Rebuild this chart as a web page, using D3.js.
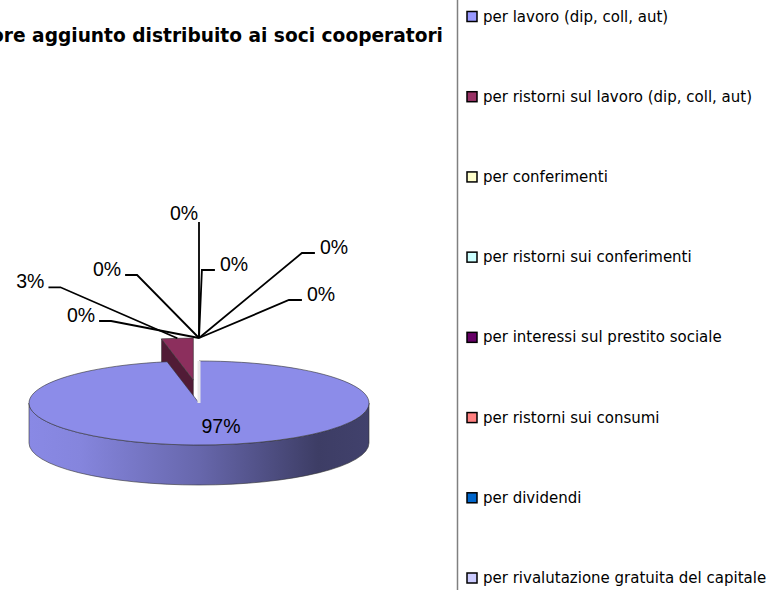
<!DOCTYPE html>
<html>
<head>
<meta charset="utf-8">
<script src="https://cdn.jsdelivr.net/npm/d3@7"></script>
<style>
  html, body { margin: 0; padding: 0; background: #fff; overflow: hidden; }
  svg { display: block; }
</style>
</head>
<body>
<svg id="chart" width="777" height="590"></svg>
<script>
// Data
const title = "Valore aggiunto distribuito ai soci cooperatori";
const categories = [
  "per lavoro (dip, coll, aut)",
  "per ristorni sul lavoro (dip, coll, aut)",
  "per conferimenti",
  "per ristorni sui conferimenti",
  "per interessi sul prestito sociale",
  "per ristorni sui consumi",
  "per dividendi",
  "per rivalutazione gratuita del capitale"
];
const values = [97, 3, 0, 0, 0, 0, 0, 0];
const colors = ["#9999FF", "#993366", "#FFFFCC", "#CCFFFF", "#660066", "#FF8080", "#0066CC", "#CCCCFF"];

// Layout
const pie3d = { cx: 199, cy: 403, rx: 170, ry: 42, depth: 40 };
const explodeX = 60, explodeY = 23;
const exploded = [false, true, true, true, true, true, true, true];
// label offset from leader anchor (first one: from pie centre), [dx, baseline dy]
const labelOffsets = [[22, 30], [-147, -50], [-118, -16], [-92, -62], [-15, -118], [35, -67], [135, -84], [122, -37]];
const labelFont = "'Liberation Sans', Arial, sans-serif";
const comicFont = "'Comic Sans MS', 'DejaVu Sans', sans-serif";

const svg = d3.select("#chart");

// Title (its left part runs past the edge, as in the original)
svg.append("text")
  .attr("x", 443)
  .attr("y", 42)
  .attr("text-anchor", "end")
  .style("font-family", comicFont)
  .style("font-weight", "bold")
  .style("font-size", "18.6px")
  .text(title);

// Pie geometry
const arcs = d3.pie().sort(null).value((d) => d)(values);

function offsetOf(i) {
  if (!exploded[i]) return [0, 0];
  const mid = (arcs[i].startAngle + arcs[i].endAngle) / 2;
  return [Math.sin(mid) * explodeX, -Math.cos(mid) * explodeY];
}

function pt(a, off, dz = 0) {
  return [pie3d.cx + off[0] + pie3d.rx * Math.sin(a), pie3d.cy + off[1] - pie3d.ry * Math.cos(a) + dz];
}

function centre(off, dz = 0) {
  return [pie3d.cx + off[0], pie3d.cy + off[1] + dz];
}

function topPath(d, off) {
  const p0 = pt(d.startAngle, off), p1 = pt(d.endAngle, off);
  const large = d.endAngle - d.startAngle > Math.PI ? 1 : 0;
  return `M${centre(off)}L${p0}A${pie3d.rx},${pie3d.ry} 0 ${large} 1 ${p1}Z`;
}

function wallPath(d, off) {
  const s = Math.max(d.startAngle, Math.PI / 2);
  const e = Math.min(d.endAngle, Math.PI * 1.5);
  if (s >= e) return null;
  const D = pie3d.depth;
  return `M${pt(s, off)}A${pie3d.rx},${pie3d.ry} 0 0 1 ${pt(e, off)}` +
    `L${pt(e, off, D)}A${pie3d.rx},${pie3d.ry} 0 0 0 ${pt(s, off, D)}Z`;
}

function cutPath(a, off) {
  const D = pie3d.depth;
  return `M${centre(off)}L${pt(a, off)}L${pt(a, off, D)}L${centre(off, D)}Z`;
}

// Wall gradients, light on the left, dark on the right
const defs = svg.append("defs");
colors.forEach((c, i) => {
  const g = defs.append("linearGradient")
    .attr("id", `wall${i}`)
    .attr("gradientUnits", "userSpaceOnUse")
    .attr("x1", pie3d.cx - pie3d.rx).attr("x2", pie3d.cx + pie3d.rx)
    .attr("y1", 0).attr("y2", 0);
  [[0, 0.3], [0.15, 0.4], [0.5, 1.1], [0.85, 2.6], [1, 2.4]].forEach(([o, k]) => {
    g.append("stop").attr("offset", o).attr("stop-color", d3.color(c).darker(k));
  });
});

// Back slices first
const order = d3.range(values.length)
  .filter((i) => values[i] > 0)
  .sort((a, b) => {
    const ma = (arcs[a].startAngle + arcs[a].endAngle) / 2;
    const mb = (arcs[b].startAngle + arcs[b].endAngle) / 2;
    return Math.cos(mb) - Math.cos(ma);
  });

const pieG = svg.append("g");
order.forEach((i) => {
  const d = arcs[i], off = offsetOf(i);
  const g = pieG.append("g");
  const stroke = "#333";

  const wall = wallPath(d, off);
  if (wall) {
    g.append("path").attr("d", wall).attr("fill", `url(#wall${i})`)
      .attr("stroke", stroke).attr("stroke-width", 0.6);
  }
  // cut faces, only the ones turned towards the viewer
  if (Math.sin(d.startAngle) < -1e-6) {
    g.append("path").attr("d", cutPath(d.startAngle, off))
      .attr("fill", d3.color(colors[i]).darker(1.8))
      .attr("stroke", stroke).attr("stroke-width", 0.5);
  }
  if (Math.sin(d.endAngle) > 1e-6) {
    g.append("path").attr("d", cutPath(d.endAngle, off))
      .attr("fill", d3.color(colors[i]).darker(1.2))
      .attr("stroke", stroke).attr("stroke-width", 0.5);
  }
  g.append("path").attr("d", topPath(d, off))
    .attr("fill", d3.color(colors[i]).darker(0.25))
    .attr("stroke", stroke).attr("stroke-width", 0.6);
});

// Edge-on face at 12 o'clock
const first = arcs[0];
pieG.append("path")
  .attr("d", `M${centre([0, 0])}L${pt(first.startAngle, [0, 0])}`)
  .attr("stroke", "#e8e8e8").attr("stroke-width", 3);

// Percentage labels and leader lines
const labelG = svg.append("g");
const total = d3.sum(values);
arcs.forEach((d, i) => {
  const pct = Math.round((values[i] / total) * 100) + "%";
  const off = offsetOf(i);
  const mid = (d.startAngle + d.endAngle) / 2;
  const [dx, dy] = labelOffsets[i];

  if (i === 0) {
    const c = centre(off);
    labelG.append("text")
      .attr("x", c[0] + dx).attr("y", c[1] + dy)
      .attr("text-anchor", "middle")
      .style("font-family", labelFont).style("font-size", "19.5px")
      .text(pct);
    return;
  }

  const anchor = pt(mid, off);
  const lx = anchor[0] + dx, ly = anchor[1] + dy;
  const t = labelG.append("text")
    .attr("x", lx).attr("y", ly)
    .attr("text-anchor", "middle")
    .style("font-family", labelFont).style("font-size", "19.5px")
    .text(pct);
  const w = t.node().getComputedTextLength();

  let path;
  if (dx < -30) {
    path = `M${lx + w / 2 + 4},${ly - 1}H${lx + w / 2 + 16}L${anchor}`;
  } else if (dx > 30) {
    path = `M${lx - w / 2 - 5},${ly - 1}H${lx - w / 2 - 18}L${anchor}`;
  } else {
    path = `M${anchor[0]},${ly + 2}L${anchor}`;
  }
  labelG.append("path").attr("d", path)
    .attr("fill", "none").attr("stroke", "#000").attr("stroke-width", 1.8);
});

// Legend
const legendY = d3.scalePoint().domain(categories).range([16.5, 578]);
svg.append("line")
  .attr("x1", 457.5).attr("x2", 457.5).attr("y1", 0).attr("y2", 590)
  .attr("stroke", "#808080").attr("stroke-width", 1.5);

const items = svg.append("g").selectAll("g")
  .data(categories)
  .join("g")
  .attr("transform", (d) => `translate(467,${legendY(d)})`);

items.append("rect")
  .attr("x", 0).attr("y", -5).attr("width", 10).attr("height", 10)
  .attr("fill", (d, i) => colors[i])
  .attr("stroke", "#000").attr("stroke-width", 1.5);

items.append("text")
  .attr("x", 16).attr("y", 5)
  .style("font-family", comicFont)
  .style("font-size", "15px")
  .text((d) => d);
</script>
</body>
</html>
